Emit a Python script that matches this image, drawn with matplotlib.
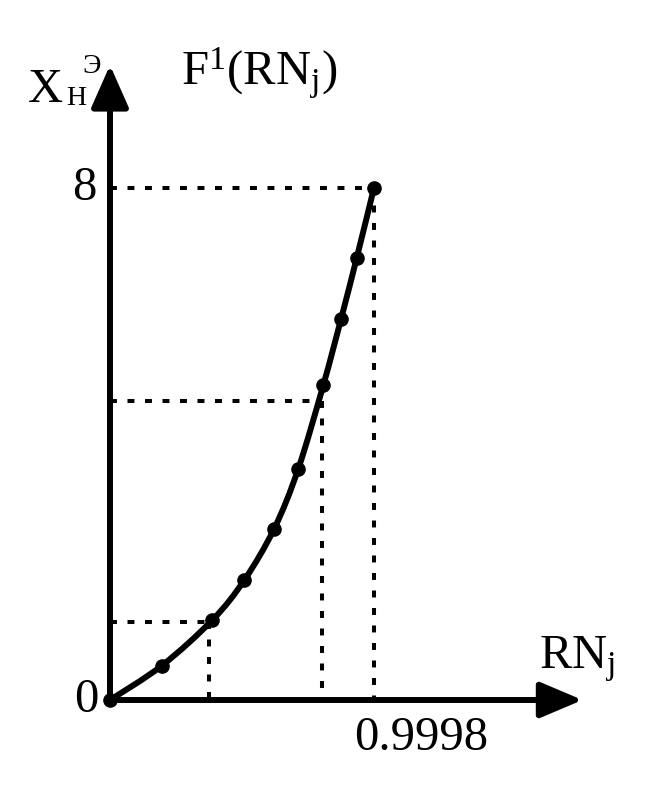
import matplotlib
matplotlib.use("Agg")
import matplotlib.pyplot as plt
from matplotlib.path import Path
from matplotlib.patches import PathPatch

plt.rcParams['font.family'] = ['Liberation Serif', 'DejaVu Serif']
plt.rcParams['mathtext.fontset'] = 'custom'
plt.rcParams['mathtext.rm'] = 'Liberation Serif'
plt.rcParams['mathtext.it'] = 'Liberation Serif:italic'
plt.rcParams['mathtext.bf'] = 'Liberation Serif:bold'
plt.rcParams['lines.scale_dashes'] = False

# точки кривой F^1(RN_j)
rn = [0.0, 0.196, 0.388, 0.509, 0.622, 0.713, 0.808, 0.875, 0.9345, 0.9998]
xh = [0.0, 0.536, 1.25, 1.875, 2.677, 3.61, 4.92, 5.95, 6.906, 8.0]

# пунктирные линии отсчёта
guide_rn = [0.375, 0.802, 0.9998]
guide_xh = [1.214, 4.67, 8.0]

W, H = 658, 808
fig = plt.figure(figsize=(W / 100, H / 100), dpi=100)
ax = fig.add_axes([0, 0, 1, 1])
ax.set_xlim(-0.4167, 2.0758)
ax.set_ylim(-1.6875, 10.9375)
ax.axis('off')

# пунктир
for gx, gy in zip(guide_rn, guide_xh):
    ax.plot([0, gx], [gy, gy], color='black', lw=2.9, dashes=(5, 7.6),
            dash_capstyle='butt')
    ax.plot([gx, gx], [gy, 0], color='black', lw=2.9, dashes=(5, 7.6),
            dash_capstyle='butt')

# оси со стрелками
ax.annotate('', xy=(0, 9.92), xytext=(0, 0),
            arrowprops=dict(arrowstyle='-|>,head_length=26,head_width=11.5',
                            mutation_scale=1, lw=4.3, color='black',
                            shrinkA=0, shrinkB=0))
ax.annotate('', xy=(1.79, 0), xytext=(0, 0),
            arrowprops=dict(arrowstyle='-|>,head_length=26,head_width=11',
                            mutation_scale=1, lw=4.3, color='black',
                            shrinkA=0, shrinkB=0))

# кривая: гладкая линия через точки (Catmull-Rom -> Безье)
verts = [(rn[0], xh[0])]
codes = [Path.MOVETO]
n = len(rn)
for i in range(n - 1):
    p0 = (rn[max(i - 1, 0)], xh[max(i - 1, 0)])
    p1 = (rn[i], xh[i])
    p2 = (rn[i + 1], xh[i + 1])
    p3 = (rn[min(i + 2, n - 1)], xh[min(i + 2, n - 1)])
    c1 = (p1[0] + (p2[0] - p0[0]) / 6, p1[1] + (p2[1] - p0[1]) / 6)
    c2 = (p2[0] - (p3[0] - p1[0]) / 6, p2[1] - (p3[1] - p1[1]) / 6)
    verts += [c1, c2, p2]
    codes += [Path.CURVE4] * 3
ax.add_patch(PathPatch(Path(verts, codes), fill=False, lw=4.3,
                       edgecolor='black', capstyle='round', zorder=5))
ax.plot(rn, xh, ls='none', marker='o', markersize=9.5, color='black', zorder=6)

# подписи делений
ax.annotate('0', xy=(0, 0), xytext=(-8, 0), textcoords='offset points',
            ha='right', va='center', fontsize=35)
ax.annotate('8', xy=(0, 8), xytext=(-10, 0), textcoords='offset points',
            ha='right', va='center', fontsize=35)
ax.annotate('0.9998', xy=(0.9998, 0), xytext=(-14, -36), textcoords='offset points',
            ha='left', va='baseline', fontsize=35)


def px(x, y):
    return x / W, 1 - y / H


# подпись оси Y
fig.text(*px(28, 102), 'X', fontsize=35, va='baseline', ha='left')
fig.text(*px(66, 105), 'Н', fontsize=20, va='baseline', ha='left')
fig.text(*px(82, 73), 'Э', fontsize=20, va='baseline', ha='left')

# заголовок кривой
fig.text(*px(181, 85), r'$\mathrm{F}^{1}\mathrm{(RN}_{\mathrm{j}}\mathrm{)}$',
         fontsize=35, va='baseline', ha='left')

# подпись оси X
fig.text(*px(539, 668), r'$\mathrm{RN}_{\mathrm{j}}$', fontsize=35,
         va='baseline', ha='left')

fig.savefig('out.png', dpi=100)
